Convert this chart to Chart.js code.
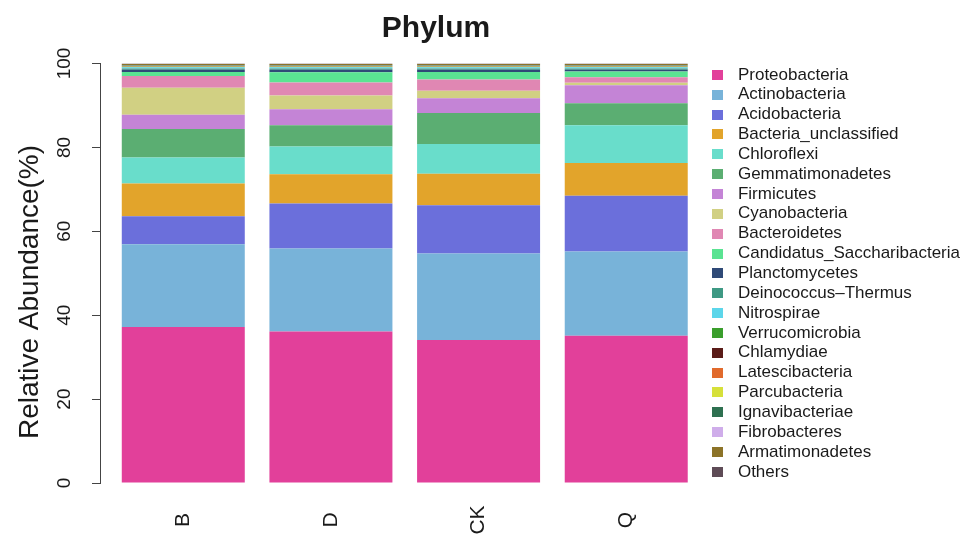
<!DOCTYPE html>
<html>
<head>
<meta charset="utf-8">
<script src="https://cdn.jsdelivr.net/npm/chart.js@4.4.1/dist/chart.umd.min.js"></script>
<style>
  html, body { margin: 0; padding: 0; background: #fff; }
  #wrap { width: 974px; height: 538px; }
</style>
</head>
<body>
<div id="wrap"><canvas id="phylumChart"></canvas></div>
<script>
const FONT = "'Liberation Sans', Arial, Helvetica, sans-serif";

const chartTitle = 'Phylum';
const yAxisTitle = 'Relative Abundance(%)';
const samples = ['B', 'D', 'CK', 'Q'];
const yTicks = [0, 20, 40, 60, 80, 100];

const phyla = [
  'Proteobacteria', 'Actinobacteria', 'Acidobacteria', 'Bacteria_unclassified',
  'Chloroflexi', 'Gemmatimonadetes', 'Firmicutes', 'Cyanobacteria', 'Bacteroidetes',
  'Candidatus_Saccharibacteria', 'Planctomycetes', 'Deinococcus\u2013Thermus', 'Nitrospirae',
  'Verrucomicrobia', 'Chlamydiae', 'Latescibacteria', 'Parcubacteria', 'Ignavibacteriae',
  'Fibrobacteres', 'Armatimonadetes', 'Others'
];
const phylumColors = [
  '#E2409A', '#78B3D9', '#6B6FDB', '#E2A42B', '#69DDCB', '#5BAE72', '#C484D6',
  '#D1D083', '#E087B3', '#5AE392', '#2F4A77', '#3E9984', '#5CD6EA', '#3A9E2C',
  '#5A1C18', '#E16A2C', '#D6E03A', '#2E7050', '#CFADEA', '#8C7328', '#5E4B56'
];

// relative abundance (%), samples in order B, D, CK, Q
const proteobacteria = [37.2, 36.1, 34.1, 35.1];
const actinobacteria = [19.7, 19.8, 20.6, 20.1];
const acidobacteria = [6.7, 10.7, 11.5, 13.3];
const bacteriaUnclassified = [7.8, 7.0, 7.5, 7.8];
const chloroflexi = [6.2, 6.6, 7.1, 9.0];
const gemmatimonadetes = [6.8, 5.1, 7.4, 5.2];
const firmicutes = [3.4, 3.8, 3.5, 4.3];
const cyanobacteria = [6.4, 3.3, 1.8, 0.6];
const bacteroidetes = [2.8, 3.1, 2.7, 1.3];
const saccharibacteria = [1.0, 2.4, 1.8, 1.4];
const planctomycetes = [0.5, 0.6, 0.5, 0.4];
const deinococcus = [0.3, 0.3, 0.3, 0.3];
const nitrospirae = [0.3, 0.3, 0.3, 0.3];
const verrucomicrobia = [0.1, 0.1, 0.1, 0.1];
const chlamydiae = [0.05, 0.05, 0.05, 0.05];
const latescibacteria = [0.1, 0.1, 0.1, 0.1];
const parcubacteria = [0.05, 0.05, 0.05, 0.05];
const ignavibacteriae = [0.1, 0.1, 0.1, 0.1];
const fibrobacteres = [0.1, 0.1, 0.1, 0.1];
const armatimonadetes = [0.3, 0.3, 0.3, 0.3];
const others = [0.1, 0.1, 0.1, 0.1];

const abundances = [
  proteobacteria, actinobacteria, acidobacteria, bacteriaUnclassified, chloroflexi,
  gemmatimonadetes, firmicutes, cyanobacteria, bacteroidetes, saccharibacteria,
  planctomycetes, deinococcus, nitrospirae, verrucomicrobia, chlamydiae,
  latescibacteria, parcubacteria, ignavibacteriae, fibrobacteres, armatimonadetes, others
];

// small square used as legend key
function swatch(color) {
  const c = document.createElement('canvas');
  c.width = 11;
  c.height = 10;
  const g = c.getContext('2d');
  g.fillStyle = color;
  g.fillRect(0, 0, 11, 10);
  return c;
}

// R-style labels: rotated tick labels, centred title
const rLabels = {
  id: 'rLabels',
  afterDraw(chart) {
    const { ctx } = chart;
    const x = chart.scales.x;
    const y = chart.scales.y;
    ctx.save();
    ctx.fillStyle = '#1a1a1a';
    ctx.textAlign = 'center';
    ctx.textBaseline = 'middle';

    ctx.font = `bold 30px ${FONT}`;
    ctx.fillText(chartTitle, 436, 29);

    ctx.font = `19px ${FONT}`;
    yTicks.forEach(v => {
      ctx.save();
      ctx.translate(y.right - 35, y.getPixelForValue(v));
      ctx.rotate(-Math.PI / 2);
      ctx.fillText(String(v), 0, 0);
      ctx.restore();
    });

    ctx.font = `28px ${FONT}`;
    ctx.save();
    ctx.translate(30, 292);
    ctx.rotate(-Math.PI / 2);
    ctx.fillText(yAxisTitle, 0, 0);
    ctx.restore();

    ctx.font = `21px ${FONT}`;
    samples.forEach((s, j) => {
      ctx.save();
      ctx.translate(x.getPixelForValue(j), 520);
      ctx.rotate(-Math.PI / 2);
      ctx.fillText(s, 0, 0);
      ctx.restore();
    });
    ctx.restore();
  }
};

const ctx = document.getElementById('phylumChart').getContext('2d');
new Chart(ctx, {
  type: 'bar',
  data: {
    datasets: phyla.map((name, i) => ({
      label: name,
      data: abundances[i].map((v, j) => ({ x: j, y: v })),
      backgroundColor: phylumColors[i],
      borderWidth: 0,
      categoryPercentage: 1,
      barPercentage: 0.833
    }))
  },
  options: {
    responsive: true,
    maintainAspectRatio: false,
    animation: false,
    layout: { padding: { top: 63.5, right: 4, bottom: 0, left: 0 } },
    scales: {
      x: {
        type: 'linear',
        stacked: true,
        offset: false,
        min: -0.564,
        max: 3.517,
        ticks: { display: false },
        grid: { display: false },
        border: { display: false },
        afterBuildTicks(scale) { scale.ticks = samples.map((s, j) => ({ value: j })); },
        afterFit(scale) { scale.height = 55; }
      },
      y: {
        stacked: true,
        min: 0,
        max: 100,
        ticks: { display: false, stepSize: 20 },
        grid: { drawOnChartArea: false, drawTicks: true, tickLength: 8, color: '#444' },
        border: { display: true, color: '#444', width: 1 },
        afterFit(scale) { scale.width = 100; }
      }
    },
    plugins: {
      title: { display: false },
      tooltip: { enabled: false },
      legend: {
        position: 'right',
        align: 'start',
        maxWidth: 300,
        labels: {
          usePointStyle: true,
          pointStyleWidth: 24,
          padding: 2.85,
          color: '#1a1a1a',
          font: { family: FONT, size: 17 },
          generateLabels(chart) {
            return Chart.defaults.plugins.legend.labels.generateLabels(chart).map(item => {
              item.pointStyle = swatch(phylumColors[item.datasetIndex]);
              return item;
            });
          }
        }
      }
    }
  },
  plugins: [rLabels]
});
</script>
</body>
</html>
